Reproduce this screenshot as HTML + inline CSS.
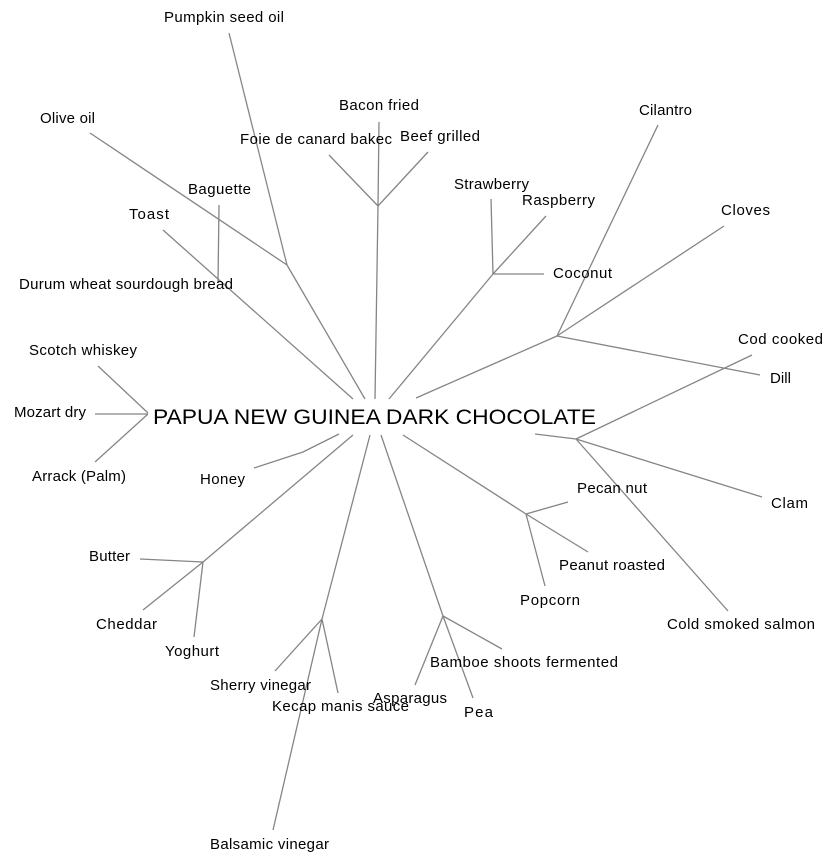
<!DOCTYPE html>
<html><head><meta charset="utf-8"><style>
html,body{margin:0;padding:0;background:#fff;}
svg{display:block;}
text{font-family:"Liberation Sans",Arial,sans-serif;font-size:15px;fill:#000;}
</style></head><body>
<svg width="838" height="864" viewBox="0 0 838 864" xmlns="http://www.w3.org/2000/svg">
<g stroke="#858585" stroke-width="1.3" fill="none">
<line x1="229" y1="33" x2="287" y2="265"/>
<line x1="90" y1="133" x2="287" y2="265"/>
<line x1="287" y1="265" x2="365" y2="399"/>
<line x1="219" y1="205" x2="218" y2="283"/>
<line x1="163" y1="230" x2="353" y2="399"/>
<line x1="379" y1="122" x2="378" y2="206"/>
<line x1="329" y1="155" x2="378" y2="206"/>
<line x1="428" y1="152" x2="378" y2="206"/>
<line x1="378" y1="206" x2="375" y2="399"/>
<line x1="491" y1="199" x2="493" y2="274"/>
<line x1="546" y1="216" x2="493" y2="274"/>
<line x1="544" y1="274" x2="493" y2="274"/>
<line x1="493" y1="274" x2="389" y2="399"/>
<line x1="658" y1="125" x2="557" y2="336"/>
<line x1="724" y1="226" x2="557" y2="336"/>
<line x1="760" y1="375" x2="557" y2="336"/>
<line x1="557" y1="336" x2="416" y2="398"/>
<line x1="752" y1="355" x2="576" y2="439"/>
<line x1="762" y1="497" x2="576" y2="439"/>
<line x1="728" y1="611" x2="576" y2="439"/>
<line x1="535" y1="434" x2="576" y2="439"/>
<line x1="403" y1="435" x2="526" y2="514"/>
<line x1="568" y1="502" x2="526" y2="514"/>
<line x1="588" y1="552" x2="526" y2="514"/>
<line x1="545" y1="586" x2="526" y2="514"/>
<line x1="98" y1="366" x2="148" y2="413"/>
<line x1="95" y1="414" x2="148" y2="414"/>
<line x1="95" y1="462" x2="148" y2="414"/>
<polyline points="254,468 303,452 339,434"/>
<line x1="353" y1="435" x2="203" y2="562"/>
<line x1="140" y1="559" x2="203" y2="562"/>
<line x1="143" y1="610" x2="203" y2="562"/>
<line x1="194" y1="637" x2="203" y2="562"/>
<line x1="370" y1="435" x2="322" y2="619"/>
<line x1="275" y1="671" x2="322" y2="619"/>
<line x1="338" y1="693" x2="322" y2="619"/>
<line x1="273" y1="830" x2="322" y2="619"/>
<line x1="381" y1="435" x2="443" y2="616"/>
<line x1="502" y1="649" x2="443" y2="616"/>
<line x1="415" y1="685" x2="443" y2="616"/>
<line x1="473" y1="698" x2="443" y2="616"/>
</g>
<text x="153" y="424" style="font-size:21px" textLength="443" lengthAdjust="spacingAndGlyphs">PAPUA NEW GUINEA DARK CHOCOLATE</text>
<g>
<text x="164" y="22" textLength="120">Pumpkin seed oil</text>
<text x="40" y="123" textLength="55">Olive oil</text>
<text x="339" y="110" textLength="80">Bacon fried</text>
<text x="240" y="144" textLength="152">Foie de canard bakec</text>
<text x="400" y="141" textLength="80">Beef grilled</text>
<text x="454" y="189" textLength="75">Strawberry</text>
<text x="522" y="205" textLength="73">Raspberry</text>
<text x="553" y="278" textLength="59">Coconut</text>
<text x="639" y="115" textLength="53">Cilantro</text>
<text x="721" y="215" textLength="49">Cloves</text>
<text x="738" y="344" textLength="85">Cod cooked</text>
<text x="770" y="383" textLength="21">Dill</text>
<text x="188" y="194" textLength="63">Baguette</text>
<text x="129" y="219" textLength="40">Toast</text>
<text x="19" y="289" textLength="214">Durum wheat sourdough bread</text>
<text x="29" y="355" textLength="108">Scotch whiskey</text>
<text x="14" y="417" textLength="72">Mozart dry</text>
<text x="32" y="481" textLength="94">Arrack (Palm)</text>
<text x="200" y="484" textLength="45">Honey</text>
<text x="89" y="561" textLength="41">Butter</text>
<text x="96" y="629" textLength="61">Cheddar</text>
<text x="165" y="656" textLength="54">Yoghurt</text>
<text x="210" y="690" textLength="101">Sherry vinegar</text>
<text x="272" y="711" textLength="137">Kecap manis sauce</text>
<text x="373" y="703" textLength="74">Asparagus</text>
<text x="430" y="667" textLength="188">Bamboe shoots fermented</text>
<text x="464" y="717" textLength="29">Pea</text>
<text x="520" y="605" textLength="60">Popcorn</text>
<text x="559" y="570" textLength="106">Peanut roasted</text>
<text x="577" y="493" textLength="70">Pecan nut</text>
<text x="771" y="508" textLength="37">Clam</text>
<text x="667" y="629" textLength="148">Cold smoked salmon</text>
<text x="210" y="849" textLength="119">Balsamic vinegar</text>
</g>
</svg>
</body></html>
